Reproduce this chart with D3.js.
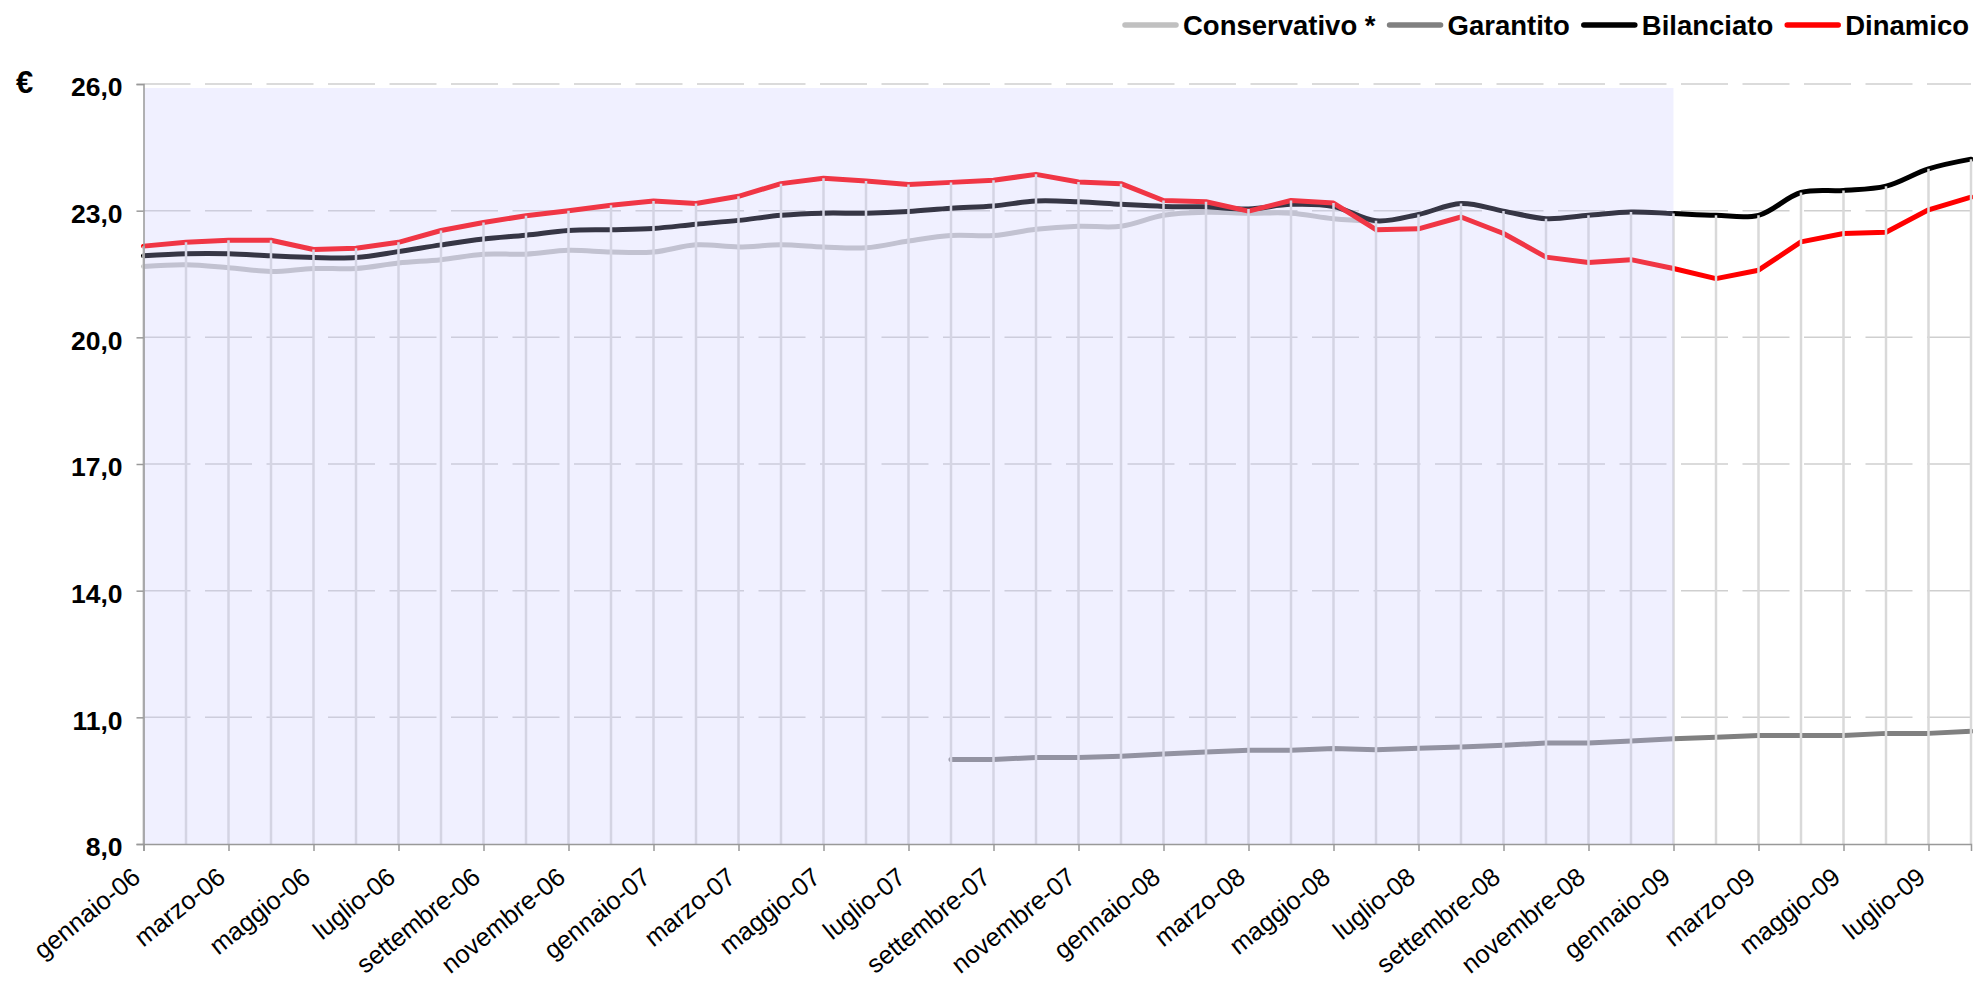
<!DOCTYPE html>
<html>
<head>
<meta charset="utf-8">
<script src="https://cdn.jsdelivr.net/npm/d3@7"></script>
<style>
  body { margin: 0; background: #fff; }
  svg { display: block; font-family: "Liberation Sans", Arial, sans-serif; }
</style>
</head>
<body>
<div class="chart"></div>
<script>

// categories
const monthNames = ["gennaio", "febbraio", "marzo", "aprile", "maggio", "giugno",
                    "luglio", "agosto", "settembre", "ottobre", "novembre", "dicembre"];
const years = ["06", "07", "08", "09"];
const months = years.flatMap(y => monthNames.map(m => `${m}-${y}`)).slice(0, 44);

// series values (€), one per month, null = no value
const conservativo = [
  21.68, 21.72, 21.65, 21.56, 21.63, 21.63, 21.76, 21.84, 21.97, 21.97,
  22.06, 22.02, 22.02, 22.19, 22.14, 22.19, 22.14, 22.12, 22.28, 22.41,
  22.41, 22.56, 22.63, 22.63, 22.89, 22.96, 22.94, 22.94, 22.81, 22.75,
  null, null, null, null, null, null, null, null, null, null,
  null, null, null, null
];
const garantito = [
  null, null, null, null, null, null, null, null, null, null,
  null, null, null, null, null, null, null, null, null, 10.00,
  10.00, 10.05, 10.05, 10.08, 10.13, 10.18, 10.22, 10.22, 10.26, 10.23,
  10.27, 10.30, 10.34, 10.39, 10.39, 10.44, 10.49, 10.53, 10.57, 10.57,
  10.57, 10.62, 10.62, 10.67
];
const bilanciato = [
  21.93, 21.98, 21.98, 21.93, 21.89, 21.89, 22.03, 22.19, 22.33, 22.42,
  22.53, 22.55, 22.58, 22.68, 22.77, 22.89, 22.94, 22.94, 22.98, 23.06,
  23.11, 23.23, 23.21, 23.15, 23.10, 23.09, 23.04, 23.15, 23.10, 22.76,
  22.91, 23.17, 22.99, 22.81, 22.89, 22.97, 22.93, 22.89, 22.89, 23.43,
  23.48, 23.58, 23.99, 24.22
];
const dinamico = [
  22.16, 22.25, 22.30, 22.30, 22.08, 22.11, 22.25, 22.53, 22.72, 22.88,
  23.00, 23.13, 23.23, 23.17, 23.34, 23.64, 23.77, 23.70, 23.62, 23.67,
  23.72, 23.86, 23.68, 23.64, 23.24, 23.21, 22.99, 23.24, 23.18, 22.55,
  22.57, 22.85, 22.46, 21.90, 21.77, 21.84, 21.63, 21.39, 21.59, 22.26,
  22.46, 22.49, 23.02, 23.32
];

// y ticks and the shaded period
const yTicks = [8, 11, 14, 17, 20, 23, 26];
const shadeStart = "gennaio-06";
const shadeEnd = "gennaio-09";

const series = [
  {name: "Conservativo *", values: conservativo, color: "#c0c0c0", smooth: true},
  {name: "Garantito", values: garantito, color: "#808080", smooth: false},
  {name: "Bilanciato", values: bilanciato, color: "#000000", smooth: true},
  {name: "Dinamico", values: dinamico, color: "#ff0000", smooth: false}
];

const margin = {top: 84, right: 2, bottom: 139, left: 143.5};
const W = 1973, H = 983;
const width = W - margin.left - margin.right,
      height = H - margin.top - margin.bottom;

const root = d3.select(".chart").append("svg")
    .attr("width", W)
    .attr("height", H);

const svg = root.append("g")
    .attr("transform", `translate(${margin.left},${margin.top})`);

const x = d3.scalePoint().domain(months).range([0, width]);
const y = d3.scaleLinear().domain([8, 26]).range([height, 0]);

// dashed horizontal gridlines
svg.append("g")
  .selectAll("line")
  .data(yTicks.filter(d => d !== 8))
  .join("line")
    .attr("x1", 0)
    .attr("x2", width)
    .attr("y1", d => y(d))
    .attr("y2", d => y(d))
    .attr("stroke", "#cfcfcf")
    .attr("stroke-width", 1.5)
    .attr("stroke-dasharray", "47,14.5");

// lines
series.forEach(s => {
  const line = d3.line()
      .defined(d => d != null)
      .x((d, i) => x(months[i]))
      .y(d => y(d))
      .curve(s.smooth ? d3.curveCatmullRom.alpha(0.5) : d3.curveLinear);

  svg.append("path")
      .datum(s.values)
      .attr("fill", "none")
      .attr("stroke", s.color)
      .attr("stroke-width", 5)
      .attr("stroke-linejoin", "round")
      .attr("stroke-linecap", "round")
      .attr("d", line);
});

// drop lines from the highest value of each month
svg.append("g")
  .selectAll("line")
  .data(months)
  .join("line")
    .attr("x1", d => x(d))
    .attr("x2", d => x(d))
    .attr("y1", (d, i) => y(d3.max(series, s => s.values[i])))
    .attr("y2", height)
    .attr("stroke", "#d9d9d9")
    .attr("stroke-width", 2.5);

// shaded period
svg.append("rect")
    .attr("x", x(shadeStart))
    .attr("y", 4)
    .attr("width", x(shadeEnd) - x(shadeStart))
    .attr("height", height - 4)
    .attr("fill", "rgb(200,200,255)")
    .attr("fill-opacity", 0.27);

// axes
const yAxis = d3.axisLeft(y)
    .tickValues(yTicks)
    .tickSize(7)
    .tickPadding(14)
    .tickFormat(d => d3.format(".1f")(d).replace(".", ","));

const yAxisSVG = svg.append("g").attr("class", "axis y-axis").call(yAxis);
yAxisSVG.select(".domain").attr("stroke", "#999").attr("stroke-width", 1.5);
yAxisSVG.selectAll(".tick line").attr("stroke", "#999").attr("stroke-width", 1.5);
yAxisSVG.selectAll(".tick text")
    .attr("dy", "0.44em")
    .attr("font-size", 26.5)
    .attr("font-weight", "bold")
    .attr("fill", "#000");

const xAxis = d3.axisBottom(x)
    .tickValues(months.filter((d, i) => i % 2 === 0))
    .tickSize(7);

const xAxisSVG = svg.append("g")
    .attr("class", "axis x-axis")
    .attr("transform", `translate(0, ${height})`)
    .call(xAxis);
xAxisSVG.select(".domain").attr("stroke", "#999").attr("stroke-width", 1.5);
xAxisSVG.selectAll(".tick line").attr("stroke", "#999").attr("stroke-width", 1.5);
xAxisSVG.selectAll(".tick text")
    .attr("x", null)
    .attr("y", null)
    .attr("dy", null)
    .attr("text-anchor", "end")
    .attr("transform", "translate(-2, 36) rotate(-39)")
    .attr("font-size", 25.5)
    .attr("fill", "#000");

// euro sign
root.append("text")
    .attr("x", 16)
    .attr("y", 93)
    .attr("font-size", 31)
    .attr("font-weight", "bold")
    .text("€");

// legend, right aligned at the top
const legend = root.append("g").attr("transform", "translate(0, 25)");
let lx = 1969;
series.slice().reverse().forEach(s => {
  const t = legend.append("text")
      .attr("font-size", 27.5)
      .attr("font-weight", "bold")
      .attr("dy", "0.36em")
      .text(s.name);
  const tw = t.node().getComputedTextLength();
  lx -= tw;
  t.attr("x", lx);
  legend.append("line")
      .attr("x1", lx - 58)
      .attr("x2", lx - 7)
      .attr("stroke", s.color)
      .attr("stroke-width", 5.5)
      .attr("stroke-linecap", "round");
  lx -= 58 + 14;
});

</script>
</body>
</html>
